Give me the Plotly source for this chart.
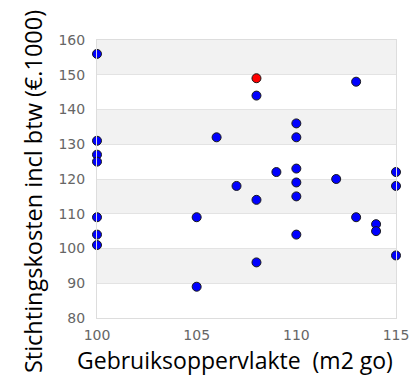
import plotly.graph_objects as go

# Gebruiksoppervlakte (m2 go) vs stichtingskosten (x 1000 euro)
opp = [100, 100, 100, 100, 100, 100, 100,
       105, 105, 106, 107,
       108, 108, 108,
       109,
       110, 110, 110, 110, 110, 110,
       112, 113, 113, 114, 114,
       115, 115, 115]
kosten = [156, 131, 127, 125, 109, 104, 101,
          109, 89, 132, 118,
          144, 114, 96,
          122,
          136, 132, 123, 119, 115, 104,
          120, 148, 109, 107, 105,
          122, 118, 98]

# highlighted project
opp_rood = [108]
kosten_rood = [149]

y_ticks = [80, 90, 100, 110, 120, 130, 140, 150, 160]
x_ticks = [100, 105, 110, 115]

fig = go.Figure()
fig.add_trace(go.Scatter(
    x=opp, y=kosten, mode="markers", cliponaxis=False,
    marker=dict(color="#0000ff", size=9, line=dict(color="#1a1a1a", width=1)),
))
fig.add_trace(go.Scatter(
    x=opp_rood, y=kosten_rood, mode="markers", cliponaxis=False,
    marker=dict(color="#ff0000", size=9, line=dict(color="#1a1a1a", width=1)),
))

# alternating grey bands
shapes = []
for i in range(len(y_ticks) - 1):
    if (len(y_ticks) - 2 - i) % 2 == 0:
        shapes.append(dict(type="rect", xref="paper", yref="y", x0=0, x1=1,
                           y0=y_ticks[i], y1=y_ticks[i + 1], layer="below",
                           fillcolor="#f2f2f2", line=dict(width=0)))

fig.update_layout(
    width=411, height=378, showlegend=False,
    margin=dict(l=97, r=15, t=40, b=60),
    paper_bgcolor="white", plot_bgcolor="white",
    shapes=shapes,
    font=dict(family="DejaVu Sans", color="#666666", size=14),
    xaxis=dict(
        range=[100, 115], tickvals=x_ticks, showgrid=False, zeroline=False,
        showline=True, linecolor="#dddddd", mirror=True, automargin=False,
        ticklabelstandoff=4,
    ),
    yaxis=dict(
        range=[80, 160], tickvals=y_ticks, showgrid=True, gridcolor="#e3e3e3",
        zeroline=False, showline=True, linecolor="#dddddd", mirror=True,
        automargin=False, ticklabelstandoff=8,
    ),
)
# axis titles as annotations: in the original they are not centred on the plot
fig.add_annotation(
    text="Gebruiksoppervlakte  (m2 go)",
    xref="paper", yref="paper", x=0.463, y=-0.152,
    xanchor="center", yanchor="middle", showarrow=False,
    font=dict(family="Open Sans", size=23, color="#000000"),
)
fig.add_annotation(
    text="Stichtingskosten incl btw (€.1000)", textangle=-90,
    xref="paper", yref="paper", x=-0.214, y=0.453,
    xanchor="center", yanchor="middle", showarrow=False,
    font=dict(family="Open Sans", size=23.5, color="#000000"),
)

# drop the default 8px body margin so the figure fills the window exactly
fig.write_html("out.html", config={"displayModeBar": False},
               post_script="document.body.style.margin = '0';")
